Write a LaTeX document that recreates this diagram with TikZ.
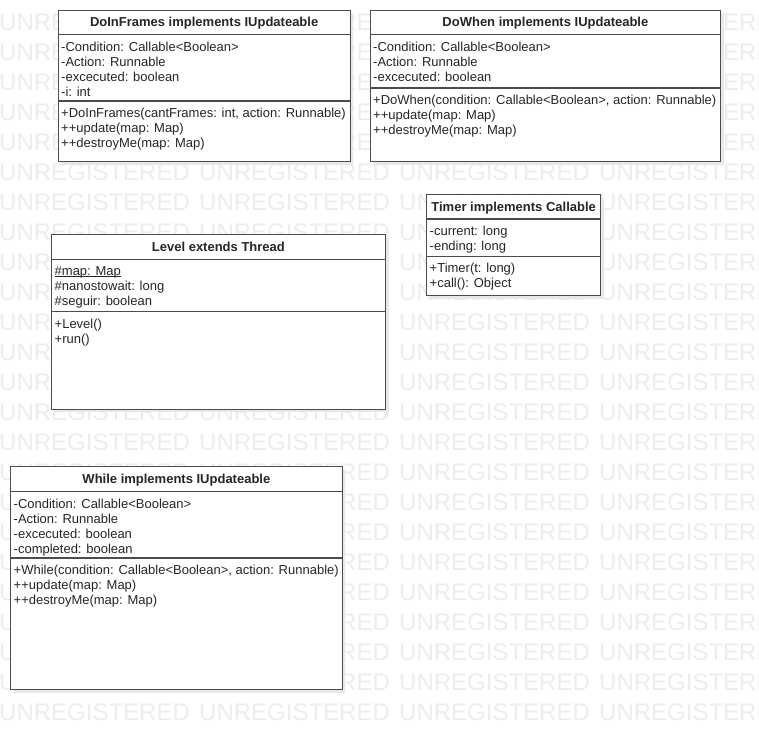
\documentclass[tikz,border=0pt]{standalone}
\usepackage{fontspec}
\setmainfont{Liberation Sans}
\usetikzlibrary{shadows}

\newcommand{\staticline}[1]{\setbox0=\hbox{#1}\rlap{\rule[-1.6pt]{\wd0}{0.9pt}}\box0}

\begin{document}
\begin{tikzpicture}[x=1pt,y=-1pt]

\tikzset{classbox/.style = {draw=black!70, line width=1.3pt, fill=white, anchor=north west, inner sep=0pt,
  drop shadow={shadow xshift=3pt, shadow yshift=-3pt, fill=black!9, opacity=1}}}
\tikzset{sep/.style = {draw=black!70, line width=1.3pt}}
\tikzset{title/.style = {anchor=base, inner sep=0pt, text=black!85, font=\fontsize{13}{15}\selectfont\bfseries}}
\tikzset{members/.style = {anchor=north west, inner sep=0pt, align=left, text=black!85, font=\fontsize{13}{15}\selectfont}}
\tikzset{watermark/.style = {anchor=base west, inner sep=0pt, text=black!7, font=\fontsize{24}{24}\selectfont}}

\useasboundingbox[fill=white] (0,0) rectangle (759,729);
%watermark
\begin{scope}
\clip (0,0) rectangle (759,729);
\foreach \r in {0,...,23}
  \foreach \c in {0,...,3}
    \node[watermark] (wm-\r-\c) at (200*\c-1, 30.5+30*\r) {UNREGISTERED};
\end{scope}

%classes
\node[classbox, minimum width=292pt, minimum height=151.5pt] (doinframes) at (57.5,9.5) {};
\node[classbox, minimum width=350.5pt, minimum height=151.5pt] (dowhen) at (369.5,9.5) {};
\node[classbox, minimum width=334.5pt, minimum height=174.5pt] (level) at (50.5,234) {};
\node[classbox, minimum width=174pt, minimum height=101pt] (timer) at (426,194) {};
\node[classbox, minimum width=331.5pt, minimum height=223.5pt] (while) at (10,465.5) {};

%DoInFrames
\draw[sep] ([yshift=-25pt]doinframes.north west) -- ([yshift=-25pt]doinframes.north east);
\draw[sep] ([yshift=-91.5pt]doinframes.north west) -- ([yshift=-91.5pt]doinframes.north east);
\node[title] (doinframes-name) at ([yshift=-17.1pt]doinframes.north) {DoInFrames implements IUpdateable};
\node[members] (doinframes-attr) at ([xshift=3.5pt,yshift=-31pt]doinframes.north west)
  {\strut-Condition: Callable<Boolean>\\-Action: Runnable\\-excecuted: boolean\\-i: int};
\node[members] (doinframes-ops) at ([xshift=3.5pt,yshift=-97.5pt]doinframes.north west)
  {\strut+DoInFrames(cantFrames: int, action: Runnable)\\++update(map: Map)\\++destroyMe(map: Map)};

%DoWhen
\draw[sep] ([yshift=-25pt]dowhen.north west) -- ([yshift=-25pt]dowhen.north east);
\draw[sep] ([yshift=-78.5pt]dowhen.north west) -- ([yshift=-78.5pt]dowhen.north east);
\node[title] (dowhen-name) at ([yshift=-17.1pt]dowhen.north) {DoWhen implements IUpdateable};
\node[members] (dowhen-attr) at ([xshift=3.5pt,yshift=-31pt]dowhen.north west)
  {\strut-Condition: Callable<Boolean>\\-Action: Runnable\\-excecuted: boolean};
\node[members] (dowhen-ops) at ([xshift=3.5pt,yshift=-84.5pt]dowhen.north west)
  {\strut+DoWhen(condition: Callable<Boolean>, action: Runnable)\\++update(map: Map)\\++destroyMe(map: Map)};

%Level
\draw[sep] ([yshift=-25.5pt]level.north west) -- ([yshift=-25.5pt]level.north east);
\draw[sep] ([yshift=-77.5pt]level.north west) -- ([yshift=-77.5pt]level.north east);
\node[title] (level-name) at ([yshift=-17.4pt]level.north) {Level extends Thread};
\node[members] (level-attr) at ([xshift=4pt,yshift=-31pt]level.north west)
  {\strut\staticline{\#map: Map}\\\#nanostowait: long\\\#seguir: boolean};
\node[members] (level-ops) at ([xshift=4pt,yshift=-83.5pt]level.north west)
  {\strut+Level()\\+run()};

%Timer
\draw[sep] ([yshift=-25pt]timer.north west) -- ([yshift=-25pt]timer.north east);
\draw[sep] ([yshift=-62.5pt]timer.north west) -- ([yshift=-62.5pt]timer.north east);
\node[title] (timer-name) at ([yshift=-17.1pt]timer.north) {Timer implements Callable};
\node[members] (timer-attr) at ([xshift=3.5pt,yshift=-30.5pt]timer.north west)
  {\strut-current: long\\-ending: long};
\node[members] (timer-ops) at ([xshift=3.5pt,yshift=-68pt]timer.north west)
  {\strut+Timer(t: long)\\+call(): Object};

%While
\draw[sep] ([yshift=-26pt]while.north west) -- ([yshift=-26pt]while.north east);
\draw[sep] ([yshift=-92.5pt]while.north west) -- ([yshift=-92.5pt]while.north east);
\node[title] (while-name) at ([yshift=-17.6pt]while.north) {While implements IUpdateable};
\node[members] (while-attr) at ([xshift=3.5pt,yshift=-32pt]while.north west)
  {\strut-Condition: Callable<Boolean>\\-Action: Runnable\\-excecuted: boolean\\-completed: boolean};
\node[members] (while-ops) at ([xshift=3.5pt,yshift=-98.5pt]while.north west)
  {\strut+While(condition: Callable<Boolean>, action: Runnable)\\++update(map: Map)\\++destroyMe(map: Map)};

\end{tikzpicture}
\end{document}
